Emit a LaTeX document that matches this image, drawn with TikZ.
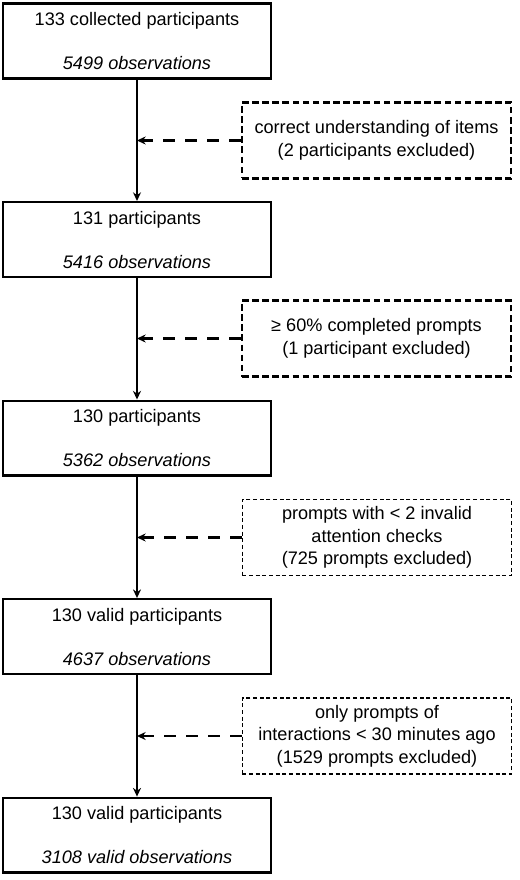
\documentclass[tikz,border=0pt]{standalone}
\usepackage{fontspec}
\setmainfont{Liberation Sans}
\usepackage{tikz}
\usetikzlibrary{arrows.meta}
\usetikzlibrary{arrows, positioning}

\begin{document}
\begin{tikzpicture}[x=0.75pt,y=-0.75pt,>={Stealth[length=6.5pt,width=6pt]},node distance=148.9pt,
  step node/.style={rectangle,draw,line width=1.8pt,minimum width=201pt,minimum height=56pt,align=center,font=\fontsize{13.6}{16}\selectfont,inner sep=0pt},
  excl thick/.style={rectangle,draw,line width=1.7pt,dash pattern=on 5pt off 2.6pt,minimum width=202pt,minimum height=57pt,align=center,font=\fontsize{13.6}{17.2}\selectfont,inner sep=0pt},
  excl thin/.style={rectangle,draw,line width=1.1pt,dash pattern=on 3pt off 2pt,minimum width=202pt,minimum height=57pt,align=center,font=\fontsize{13.6}{17}\selectfont,inner sep=0pt},
  flow/.style={->,line width=1.8pt},
  drop/.style={->,line width=2.1pt,dash pattern=on 8.5pt off 8pt}]

        \useasboundingbox (0,0) rectangle (520,880);

        \node[step node] (0) at (137,41)   {133 collected participants\\[17pt]\textit{5499 observations}};
        \node[step node] (1) [below of=0]  {131 participants\\[17pt]\textit{5416 observations}};
        \node[step node] (2) [below of=1]  {130 participants\\[17pt]\textit{5362 observations}};
        \node[step node] (3) [below of=2]  {130 valid participants\\[17pt]\textit{4637 observations}};
        \node[step node] (4) [below of=3]  {130 valid participants\\[17pt]\textit{3108 valid observations}};

        \node[excl thick] (x1) at (376.5,140.5) {correct understanding of items\\(2 participants excluded)};
        \node[excl thick] (x2) at (376.5,338.5) {≥ 60\% completed prompts\\(1 participant excluded)};
        \node[excl thin]  (x3) at (377,537.5)   {prompts with < 2 invalid\\attention checks\\(725 prompts excluded)};
        \node[excl thin]  (x4) at (377,736)     {only prompts of\\interactions < 30 minutes ago\\(1529 prompts excluded)};

        \foreach \a/\b in {0/1,1/2,2/3,3/4}
          \draw[flow] (\a) -- (\b);

        \foreach \x/\s in {x1/0,x2/1,x3/2,x4/3}
          \draw[drop] (\x.west) -- (\x.west -| \s.south);
\end{tikzpicture}
\end{document}
